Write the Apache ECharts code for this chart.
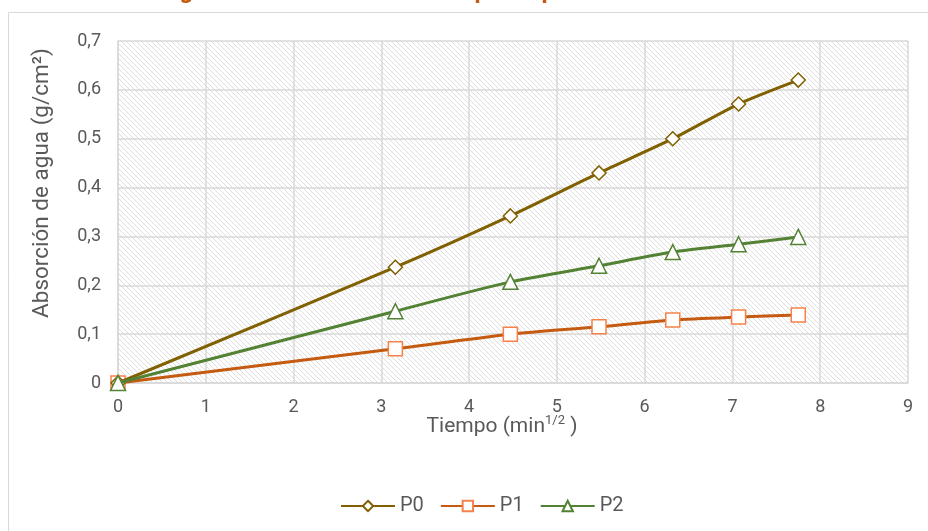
<!DOCTYPE html>
<html><head><meta charset="utf-8">
<script src="https://cdn.jsdelivr.net/npm/echarts@6/dist/echarts.min.js"></script>
<style>html,body{margin:0;padding:0;background:#fff}#c{width:928px;height:531px}</style>
</head><body><div id="c"></div>
<script>
const xValues = [0, 3.16, 4.47, 5.48, 6.32, 7.07, 7.75];
const p0 = [0, 0.237, 0.342, 0.430, 0.500, 0.571, 0.620];
const p1 = [0, 0.070, 0.100, 0.115, 0.129, 0.135, 0.139];
const p2 = [0, 0.147, 0.207, 0.240, 0.268, 0.284, 0.299];
const seriesNames = ['P0', 'P1', 'P2'];

function pair(ys){ return xValues.map((x,i)=>[x, ys[i]]); }

const N = 5;
const pc = document.createElement('canvas');
pc.width = N; pc.height = N;
const g = pc.getContext('2d');
g.fillStyle = '#ffffff'; g.fillRect(0,0,N,N);
g.strokeStyle = '#dedede'; g.lineWidth = 1;
g.beginPath();
g.moveTo(-1,-1); g.lineTo(N+1,N+1);
g.moveTo(-N-1,-1); g.lineTo(1,N+1);
g.moveTo(N-1,-N-1); g.lineTo(2*N+1,N+1);
g.stroke();

const chart = echarts.init(document.getElementById('c'));
const font = 'Roboto, "Noto Sans", sans-serif';
chart.setOption({
  animation: false,
  backgroundColor: '#fff',
  title: {
    text: 'Figura 1: Curva de absorción por capilaridad en una hora',
    left: 'center', top: -25,
    textStyle: { color: '#C55A11', fontSize: 24, fontWeight: 'bold', fontFamily: font }
  },
  graphic: [{
    type: 'rect', shape: { x: 8.5, y: 12.5, width: 930, height: 530 },
    style: { fill: 'none', stroke: '#d9d9d9', lineWidth: 1 }, silent: true, z: -1
  }],
  grid: {
    left: 118, right: 20, top: 41, bottom: 148,
    show: true, borderWidth: 0,
    backgroundColor: { image: pc, repeat: 'repeat' }
  },
  legend: {
    bottom: 10, left: 335, itemWidth: 54, itemHeight: 13, itemGap: 16,
    textStyle: { color: '#595959', fontSize: 20, fontFamily: font },
    data: seriesNames
  },
  xAxis: {
    type: 'value', min: 0, max: 9, interval: 1,
    name: '{a|Tiempo (min}{s|1/2}{a| )}', nameLocation: 'middle', nameGap: 31,
    nameMoveOverlap: false,
    nameTextStyle: { padding: [0, 22, 0, 0], rich: {
      a: { fontSize: 21, color: '#595959', fontFamily: font, verticalAlign: 'bottom' },
      s: { fontSize: 13, color: '#595959', fontFamily: font, verticalAlign: 'top', padding: [0,0,10,0] }
    }},
    axisLine: { show: true, lineStyle: { color: '#d9d9d9', width: 1.5 } },
    axisTick: { show: false },
    axisLabel: { color: '#595959', fontSize: 18, fontFamily: font, margin: 15 },
    splitLine: { show: true, lineStyle: { color: '#d9d9d9', width: 1.5 } }
  },
  yAxis: {
    type: 'value', min: 0, max: 0.7, interval: 0.1,
    name: 'Absorción de agua (g/cm²)', nameLocation: 'middle', nameGap: 64, nameRotate: 90,
    nameMoveOverlap: false,
    nameTextStyle: { color: '#595959', fontSize: 22.5, fontFamily: font, padding: [0, 0, 0, 58] },
    axisLine: { show: true, lineStyle: { color: '#d9d9d9', width: 1.5 } },
    axisTick: { show: false },
    axisLabel: { color: '#595959', fontSize: 18, fontFamily: font, margin: 17,
      formatter: v => (Math.round(v*10)/10).toString().replace('.', ',') },
    splitLine: { show: true, lineStyle: { color: '#d9d9d9', width: 1.5 } }
  },
  series: [
    { name: 'P0', type: 'line', data: pair(p0), smooth: 0.25, symbol: 'diamond', symbolSize: 14,
      lineStyle: { color: '#806000', width: 3 },
      itemStyle: { color: '#ffffff', borderColor: '#806000', borderWidth: 1.5 }, z: 3 },
    { name: 'P1', type: 'line', data: pair(p1), smooth: 0.25, symbol: 'rect', symbolSize: 14,
      lineStyle: { color: '#C55A11', width: 3 },
      itemStyle: { color: '#ffffff', borderColor: '#F4824A', borderWidth: 1.5 }, z: 2 },
    { name: 'P2', type: 'line', data: pair(p2), smooth: 0.25, symbol: 'triangle', symbolSize: 15,
      lineStyle: { color: '#548235', width: 3 },
      itemStyle: { color: '#ffffff', borderColor: '#548235', borderWidth: 1.5 }, z: 4 }
  ]
});
</script></body></html>
